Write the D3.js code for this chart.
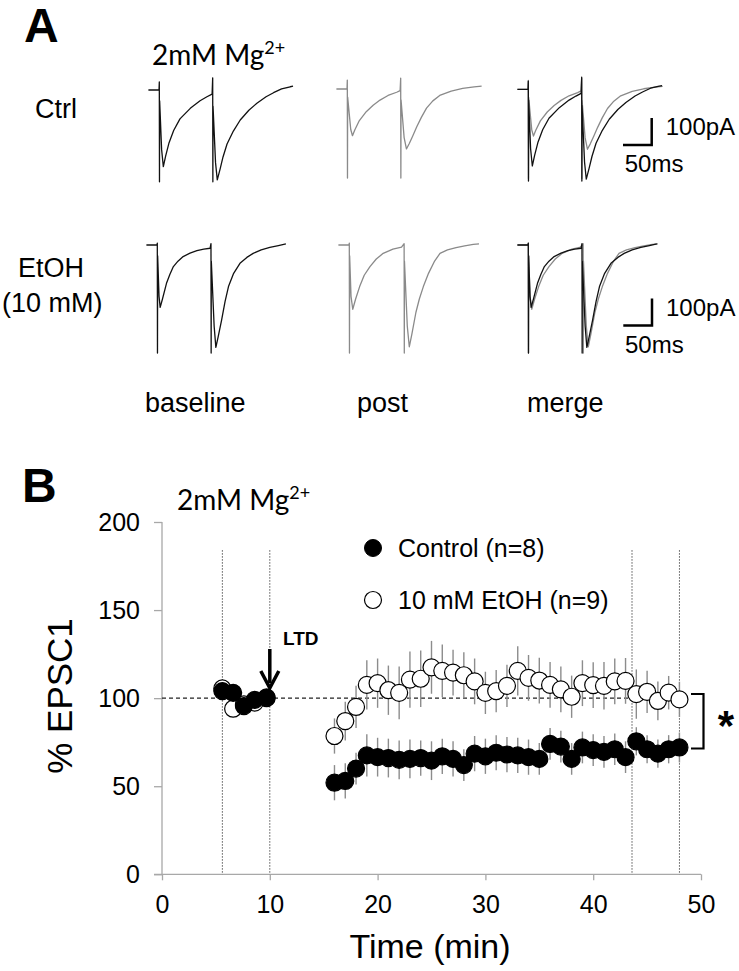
<!DOCTYPE html>
<html><head><meta charset="utf-8">
<script src="https://cdn.jsdelivr.net/npm/d3@7"></script>
<style>body{margin:0;background:#fff}svg{display:block}text{font-family:"Liberation Sans",Arial,sans-serif}</style>
</head><body><div id="chart"></div>
<script>
// ---------- Panel A: traces ([ms, pA]) ----------
const traceCtrlBase = [[0,0],[18.5,0],[19,30],[19.3,-340],[19.6,-40],[23,-220],[26,-284],[30,-245],[36,-195],[44,-150],[55,-107],[73,-68],[90,-40],[102,-25],[111,-15],[112,45],[112.3,-340],[112.6,-60],[117,-270],[120,-333],[125,-292],[130,-248],[137,-200],[148,-152],[160,-111],[175,-75],[189,-49],[205,-25],[218,-10],[232,4],[247,12],[252,14]];
const traceCtrlPost = [[0,0],[18.5,0],[19,33],[19.3,-330],[19.6,-30],[25,-150],[28,-173],[32,-152],[40,-117],[52,-84],[64,-60],[76,-41],[90,-24],[105,-12],[111,-6],[112,40],[112.3,-330],[112.6,-40],[118,-180],[122,-222],[127,-202],[133,-174],[140,-140],[148,-105],[157,-71],[168,-44],[180,-24],[200,-8],[220,2],[240,8],[253,11]];
const traceEtohBase = [[0,0],[18.5,0],[19,7],[19.3,-400],[19.6,-40],[22,-190],[24,-231],[28,-200],[35,-142],[41,-108],[47,-80],[55,-60],[64,-43],[76,-30],[88,-21],[100,-15],[111,-12],[112.5,5],[112.8,-400],[113.1,-60],[118,-300],[121,-379],[125,-340],[131,-278],[137,-210],[143,-154],[152,-105],[163,-68],[175,-46],[186,-31],[200,-18],[215,-9],[230,-2],[243,4]];
const traceEtohPost = [[0,0],[18.5,0],[19,7],[19.3,-400],[19.6,-40],[22,-190],[25,-238],[30,-200],[37,-154],[45,-112],[55,-80],[66,-52],[78,-31],[95,-15],[110,-8],[114.5,5],[114.8,-400],[115.1,-60],[120,-300],[123.5,-377],[128,-330],[135,-250],[141,-200],[148,-154],[157,-105],[167,-62],[177,-31],[190,-18],[205,-10],[220,-3],[235,2],[245,4]];
const scaleBar = {ms: 50, pA: 100};
const rowLabels = ["Ctrl", "EtOH", "(10 mM)"];
const colLabels = ["baseline", "post", "merge"];

// ---------- Panel B: time course ----------
const baseTimes = [5.6, 6.6, 7.6, 8.6, 9.7];
const ctrlBase = [104, 103, 95.5, 99, 100.4];
const etohBase = [105.5, 94, 96.5, 97.5, 100];
const baseSEM = [2, 2, 2, 2, 1.5];
const postTimes = [16,17,18,19,20,21,22,23,24,25,26,27,28,29,30,31,32,33,34,35,36,37,38,39,40,41,42,43,44,45,46,47,48];
const ctrlPost = [52,53,60,67.5,66.5,66,65,65.5,66,64.5,67,65.5,62,68.5,67,69,68,67.5,66.5,65.5,74,72.5,65.5,72,70.5,69.5,71,66.5,75.5,71,68.5,71,72];
const ctrlSEM =  [10,10,9,12,11,11,11,11,10,11,10,10,9,10,10,10,10,10,10,9,9,9,9,9,9,9,9,9,8,8,8,8,8.5];
const etohPost = [78.5,87,95,107.5,108.5,104.5,103,110.5,111,117.5,115.5,114.5,113,109.5,103,104,107,115.5,111.5,110,107.5,105,100.8,108.5,107.4,107,109.5,109.8,102.3,103.6,98.4,103.1,99.3];
const etohSEM =  [10,11,12,14,14,14,15,16,16,15,15,13,13,13,12,12,12,14,13,13,13,13,12,13,13,13.5,13,13,14,12,11,9.5,10];
const xTicks = [0,10,20,30,40,50];
const yTicks = [0,50,100,150,200];
const markerLines = [5.6, 10, 43.6, 48];
const legendLabels = ["Control (n=8)", "10 mM EtOH (n=9)"];

const W = 739, H = 971;
const svg = d3.select("#chart").append("svg").attr("width", W).attr("height", H);
svg.append("rect").attr("width", W).attr("height", H).attr("fill", "#fff");

// ===== Panel A =====
svg.append("text").attr("x", 24).attr("y", 42).attr("font-size", 48).attr("font-weight", "bold").text("A");
const tA = svg.append("text").attr("x", 152).attr("y", 65).attr("font-size", 28).style("font-family", "Lato, 'Open Sans', sans-serif");
tA.append("tspan").text("2mM Mg");
tA.append("tspan").attr("font-size", 18).attr("dy", -11).text("2+");

svg.append("text").attr("x", 35).attr("y", 118).attr("font-size", 27).text(rowLabels[0]);
svg.append("text").attr("x", 18).attr("y", 277).attr("font-size", 27).text(rowLabels[1]);
svg.append("text").attr("x", 2).attr("y", 312).attr("font-size", 27).text(rowLabels[2]);
[145, 357, 527].forEach((x, i) => svg.append("text").attr("x", x).attr("y", 412).attr("font-size", 27).text(colLabels[i]));

const tx = d3.scaleLinear().domain([0, 50]).range([0, 28.7]);
const ty = d3.scaleLinear().domain([0, 100]).range([0, -27]);
const line = d3.line().x(d => tx(d[0])).y(d => ty(d[1]));
function drawTrace(data, x0, y0, color) {
  svg.append("g").attr("transform", `translate(${x0},${y0})`)
    .append("path").attr("d", line(data)).attr("fill", "none")
    .attr("stroke", color).attr("stroke-width", 1.3).attr("stroke-linejoin", "round");
}
const black = "#111", grey = "#8a8a8a";
drawTrace(traceCtrlBase, 148.4, 90, black);
drawTrace(traceCtrlPost, 336.4, 89, grey);
drawTrace(traceCtrlPost, 517.4, 89.3, grey);
drawTrace(traceCtrlBase, 517.4, 89.3, black);
drawTrace(traceEtohBase, 146.4, 245, black);
drawTrace(traceEtohPost, 338.4, 245, grey);
drawTrace(traceEtohPost, 517.4, 245, grey);
drawTrace(traceEtohBase, 517.4, 245, black);

function drawScale(cx, cy) {
  const g = svg.append("g").attr("transform", `translate(${cx},${cy})`);
  g.append("path").attr("d", `M${-tx(scaleBar.ms)},0H0V${ty(scaleBar.pA)}`)
    .attr("fill", "none").attr("stroke", "#000").attr("stroke-width", 2.5);
  g.append("text").attr("x", 14).attr("y", -10).attr("font-size", 24).text(scaleBar.pA + "pA");
  g.append("text").attr("x", -27).attr("y", 27).attr("font-size", 24).text(scaleBar.ms + "ms");
}
drawScale(651.7, 145);
drawScale(652, 325.5);

// ===== Panel B =====
svg.append("text").attr("x", 22).attr("y", 502).attr("font-size", 48).attr("font-weight", "bold").text("B");
const tB = svg.append("text").attr("x", 177).attr("y", 510).attr("font-size", 28).style("font-family", "Lato, 'Open Sans', sans-serif");
tB.append("tspan").text("2mM Mg");
tB.append("tspan").attr("font-size", 18).attr("dy", -11).text("2+");

const x = d3.scaleLinear().domain([0, 50]).range([162, 701]);
const y = d3.scaleLinear().domain([0, 200]).range([874.3, 522]);
const axisColor = "#a8a8a8";

const gy = svg.append("g").attr("transform", `translate(${x(0)},0)`)
  .call(d3.axisLeft(y).tickValues(yTicks).tickSize(8).tickPadding(14));
gy.select(".domain").attr("stroke", axisColor).attr("stroke-width", 1.3).attr("d", `M0,${y(200)}V${y(0)}`);
gy.selectAll(".tick line").attr("stroke", axisColor).attr("stroke-width", 1.3);
gy.selectAll(".tick text").attr("font-size", 25).attr("fill", "#000").style("font-family", "'Liberation Sans', Arial, sans-serif");

const gx = svg.append("g").attr("transform", `translate(0,${y(0)})`)
  .call(d3.axisBottom(x).tickValues(xTicks).tickSize(6).tickPadding(15));
gx.select(".domain").attr("stroke", axisColor).attr("stroke-width", 1.3).attr("d", `M${x(0)-8},0H${x(50)}`);
gx.selectAll(".tick line").attr("stroke", axisColor).attr("stroke-width", 1.3);
gx.selectAll(".tick text").attr("font-size", 25).attr("fill", "#000").style("font-family", "'Liberation Sans', Arial, sans-serif");

svg.append("text").attr("transform", `translate(72,696) rotate(-90)`).attr("text-anchor", "middle")
  .attr("font-size", 35).text("% EPSC1");
svg.append("text").attr("x", 430).attr("y", 958).attr("text-anchor", "middle").attr("font-size", 34).text("Time (min)");

// marker lines
markerLines.forEach(t => svg.append("line").attr("x1", x(t)).attr("x2", x(t)).attr("y1", y(184)).attr("y2", y(0))
  .attr("stroke", "#555").attr("stroke-width", 1).attr("stroke-dasharray", "1.5,1.5"));
svg.append("line").attr("x1", x(0)).attr("x2", x(48)).attr("y1", y(100)).attr("y2", y(100))
  .attr("stroke", "#222").attr("stroke-width", 1.3).attr("stroke-dasharray", "4,3");

// LTD arrow
svg.append("text").attr("x", 283).attr("y", 645).attr("font-size", 19).attr("font-weight", "bold").text("LTD");
svg.append("line").attr("x1", x(10)).attr("x2", x(10)).attr("y1", 649).attr("y2", 683).attr("stroke", "#000").attr("stroke-width", 3.5);
svg.append("path").attr("d", `M${x(10)-9},671L${x(10)},688L${x(10)+9},671`).attr("fill", "none").attr("stroke", "#000").attr("stroke-width", 3.5);

// data
const ctrlAll = baseTimes.map((t, i) => ({t, v: ctrlBase[i], e: baseSEM[i]})).concat(postTimes.map((t, i) => ({t, v: ctrlPost[i], e: ctrlSEM[i]})));
const etohAll = baseTimes.map((t, i) => ({t, v: etohBase[i], e: baseSEM[i]})).concat(postTimes.map((t, i) => ({t, v: etohPost[i], e: etohSEM[i]})));
const errColor = "#8c8c8c";
[etohAll, ctrlAll].forEach(ds => svg.append("g").selectAll("line").data(ds).join("line")
  .attr("x1", d => x(d.t)).attr("x2", d => x(d.t)).attr("y1", d => y(d.v + d.e)).attr("y2", d => y(d.v - d.e))
  .attr("stroke", errColor).attr("stroke-width", 1.4));
const R = 8.5;
svg.append("g").selectAll("circle").data(etohAll).join("circle")
  .attr("cx", d => x(d.t)).attr("cy", d => y(d.v)).attr("r", R)
  .attr("fill", "#fff").attr("stroke", "#000").attr("stroke-width", 1.2);
svg.append("g").selectAll("circle").data(ctrlAll).join("circle")
  .attr("cx", d => x(d.t)).attr("cy", d => y(d.v)).attr("r", R)
  .attr("fill", "#000").attr("stroke", "#000").attr("stroke-width", 1.2);

// legend
svg.append("circle").attr("cx", 373).attr("cy", 548).attr("r", R).attr("fill", "#000").attr("stroke", "#000");
svg.append("circle").attr("cx", 373).attr("cy", 600).attr("r", R).attr("fill", "#fff").attr("stroke", "#000").attr("stroke-width", 1.2);
svg.append("text").attr("x", 398).attr("y", 557).attr("font-size", 25).text(legendLabels[0]);
svg.append("text").attr("x", 398).attr("y", 609).attr("font-size", 25).text(legendLabels[1]);

// significance bracket
svg.append("path").attr("d", "M691,694H703.5V748.5H691").attr("fill", "none").attr("stroke", "#000").attr("stroke-width", 2.2);
svg.append("text").attr("x", 726).attr("y", 740).attr("text-anchor", "middle").attr("font-size", 42).attr("font-weight", "bold").text("*");
</script></body></html>
